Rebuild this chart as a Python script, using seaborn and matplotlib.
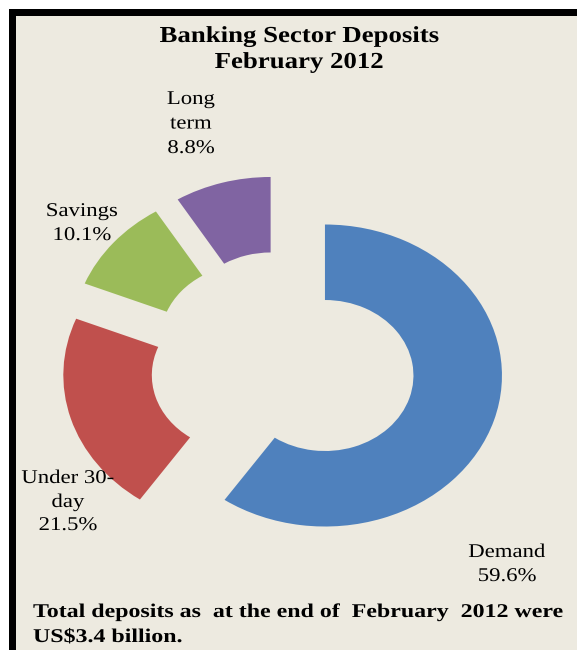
import matplotlib
matplotlib.use("Agg")
import matplotlib.pyplot as plt
import seaborn as sns
from matplotlib.patches import Rectangle
from matplotlib.patheffects import AbstractPathEffect
from matplotlib.transforms import Affine2D

# ---- data ----
categories = ["Demand", "Under 30-day", "Savings", "Long term"]
shares = [59.6, 21.5, 10.1, 8.8]
label_lines = [["Demand", "59.6%"], ["Under 30-", "day", "21.5%"],
               ["Savings", "10.1%"], ["Long", "term", "8.8%"]]
title_lines = ["Banking Sector Deposits", "February 2012"]
footer_lines = ["Total deposits as  at the end of  February  2012 were",
                "US$3.4 billion."]

colors = ["#4F81BD", "#C0504D", "#9BBB59", "#8064A2"]
BG = "#EDEAE0"

sns.set_theme(style="white")
plt.rcParams["font.family"] = ["Liberation Serif", "DejaVu Serif"]

W, H = 577, 650
fig = plt.figure(figsize=(W / 100, H / 100), dpi=100)
fig.patch.set_facecolor("white")


def fx(px):
    return px / W


def fy(py):
    return 1 - py / H


class HStretch(AbstractPathEffect):
    """Widen glyphs horizontally about a fixed x (display pixels)."""

    def __init__(self, sx, x0):
        super().__init__()
        self.sx, self.x0 = sx, x0

    def draw_path(self, renderer, gc, tpath, affine, rgbFace=None):
        t = affine + Affine2D().translate(-self.x0, 0).scale(self.sx, 1).translate(self.x0, 0)
        renderer.draw_path(gc, tpath, t, rgbFace)


# frame: black border on top and left, beige panel
fig.patches.append(Rectangle((fx(9), 0), 1 - fx(9), fy(9), transform=fig.transFigure,
                             facecolor="black", edgecolor="none", zorder=-10))
fig.patches.append(Rectangle((fx(15.5), 0), 1 - fx(15.5), fy(15.5), transform=fig.transFigure,
                             facecolor=BG, edgecolor="none", zorder=-9))

ax = fig.add_axes([0, 0, 1, 1])
ax.set_facecolor("none")
ax.pie(shares, colors=colors, startangle=90, counterclock=False,
       explode=[0.25] * len(shares),
       wedgeprops=dict(width=0.5, edgecolor="none", linewidth=0))
# pie centre at pixel (282.7, 364.3); radius 177 px horizontally, 151 px vertically
cx, cy, rx, ry = 282.7, 364.3, 177.0, 151.0
ax.set_aspect("auto")
ax.set_xlim(-cx / rx, (W - cx) / rx)
ax.set_ylim((cy - H) / ry, cy / ry)
ax.axis("off")


def put_lines(lines, x, baselines, size, weight="normal", ha="center", sx=1.17):
    for s, b in zip(lines, baselines):
        fig.text(fx(x), fy(b), s, ha=ha, va="baseline", fontsize=size,
                 fontweight=weight, color="black",
                 path_effects=[HStretch(sx, x)])


put_lines(title_lines, 299, [42, 68], 16.5, weight="bold")
put_lines(label_lines[3], 191, [104, 128.5, 153], 14)
put_lines(label_lines[2], 82, [216, 240], 14)
put_lines(label_lines[1], 68, [483, 507, 530], 14)
put_lines(label_lines[0], 507, [557, 581], 14)
put_lines(footer_lines, 33, [617, 642], 14, weight="bold", ha="left", sx=1.23)

fig.savefig("out.png", dpi=100, facecolor=fig.get_facecolor())
